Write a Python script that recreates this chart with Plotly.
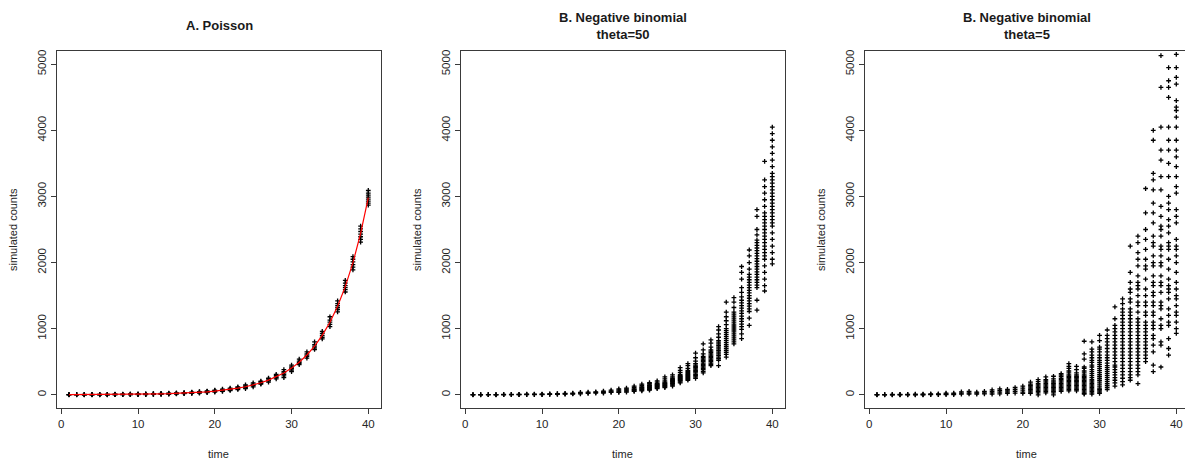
import plotly.graph_objects as go

# ---------------- data ----------------
times = list(range(1, 41))

# fitted Poisson mean (red line)
poisson_mean = [1.2, 1.5, 1.8, 2.2, 2.7, 3.3, 4.1, 5.0, 6.0, 7.4,
                9.0, 11, 13.5, 16.4, 20, 24.5, 30, 36.6, 44.7, 54.6,
                66.7, 81.5, 99.5, 121.5, 148.4, 181.3, 221.4, 270.4, 330.3, 403.4,
                492.7, 601.8, 735.1, 897.8, 1096.6, 1339.4, 1636, 1998.2, 2440.6, 2981]

# simulated Poisson counts, one list per time point
poisson_sims = [
    [0, 1, 2, 3], [0, 1, 2, 3], [0, 1, 2, 3, 4], [0, 1, 2, 3, 5], [0, 2, 3, 4, 6],
    [0, 2, 3, 4, 7], [1, 3, 4, 5, 8], [1, 3, 5, 7, 9], [2, 4, 6, 8, 10], [3, 6, 7, 9, 12],
    [4, 7, 9, 11, 14], [5, 9, 11, 13, 17], [7, 11, 13, 16, 20], [9, 13, 16, 19, 24], [12, 17, 20, 23, 28],
    [16, 21, 24, 28, 33], [20, 26, 30, 35, 40], [26, 32, 37, 42, 48], [33, 40, 45, 50, 57], [40, 50, 55, 62, 70],
    [50, 60, 67, 75, 85], [65, 75, 80, 90, 100], [80, 90, 100, 110, 120], [95, 110, 120, 135, 150], [120, 140, 150, 160, 180],
    [160, 170, 180, 195, 205], [190, 210, 220, 240, 250], [240, 260, 270, 290, 310], [260, 285, 310, 330, 350, 380], [350, 375, 400, 420, 450],
    [455, 475, 490, 510, 540], [555, 580, 600, 620, 650], [685, 710, 735, 760, 800], [845, 870, 900, 930, 960], [1030, 1065, 1100, 1130, 1180],
    [1255, 1290, 1320, 1350, 1380, 1420], [1555, 1590, 1620, 1650, 1690, 1730], [1890, 1930, 1970, 2010, 2050, 2090],
    [2310, 2350, 2390, 2430, 2470, 2510, 2550], [2870, 2900, 2930, 2960, 2990, 3020, 3050, 3090],
]

# simulated negative binomial counts, theta = 50
nb50_sims = [
    [0, 1, 2], [0, 1, 2], [1, 2, 3], [0, 2, 3], [1, 2, 4],
    [1, 3, 5], [2, 4, 6], [2, 5, 8], [3, 6, 9], [4, 7, 11],
    [6, 10, 14], [8, 12, 16], [10, 15, 20], [12, 18, 25], [15, 25, 35],
    [20, 30, 40], [25, 35, 45], [25, 35, 45, 55], [35, 45, 55, 70], [35, 45, 60, 75, 90],
    [40, 55, 70, 85, 100], [50, 60, 70, 80, 90, 110, 130], [60, 70, 80, 90, 100, 110, 120, 140, 160],
    [70, 80, 90, 100, 110, 120, 130, 140, 150, 170, 185],
    [95, 105, 115, 125, 135, 145, 150, 160, 170, 190, 210], [110, 120, 130, 140, 150, 160, 170, 180, 190, 210, 240, 270],
    [130, 145, 160, 170, 180, 190, 200, 210, 220, 230, 250, 270, 300],
    [180, 195, 210, 220, 230, 240, 250, 260, 270, 280, 290, 310, 340, 370, 410],
    [220, 235, 250, 265, 280, 295, 310, 325, 340, 355, 370, 400, 440, 470],
    [250, 270, 290, 310, 330, 350, 370, 390, 410, 430, 450, 470, 510, 560, 630],
    [330, 355, 380, 400, 420, 440, 460, 480, 500, 520, 540, 560, 580, 620, 680, 770],
    [440, 460, 480, 500, 520, 540, 560, 580, 600, 620, 640, 660, 680, 720, 780, 830],
    [440, 520, 545, 570, 595, 620, 645, 670, 695, 720, 745, 770, 795, 820, 870, 920, 980, 1030],
    [570, 610, 640, 670, 700, 730, 760, 790, 820, 850, 880, 910, 940, 970, 1000, 1060, 1120, 1180, 1250, 1400],
    [770, 800, 830, 860, 890, 920, 950, 980, 1010, 1040, 1070, 1100, 1130, 1160, 1190, 1220, 1250, 1320, 1400, 1470],
    [850, 920, 990, 1030, 1070, 1110, 1150, 1190, 1230, 1270, 1310, 1350, 1390, 1430, 1480, 1550, 1620, 1750, 1850, 1940],
    [1050, 1160, 1260, 1300, 1340, 1380, 1420, 1460, 1500, 1540, 1580, 1620, 1660, 1700, 1740, 1780, 1820,
     1900, 2000, 2100, 2190],
    [1280, 1430, 1620, 1660, 1700, 1740, 1780, 1820, 1860, 1900, 1940, 1980, 2020, 2060, 2100, 2140, 2180,
     2220, 2260, 2300, 2340, 2420, 2500, 2700, 2800],
    [1570, 1650, 1750, 1850, 1950, 2050, 2100, 2150, 2200, 2250, 2300, 2350, 2400, 2450, 2500, 2550, 2600,
     2650, 2700, 2750, 2850, 2950, 3050, 3150, 3250, 3530],
    [1980, 2050, 2150, 2250, 2350, 2450, 2550, 2600, 2650, 2700, 2750, 2800, 2850, 2900, 2950, 3000, 3050,
     3100, 3150, 3200, 3250, 3300, 3350, 3450, 3550, 3650, 3750, 3850, 3950, 4050],
]

# simulated negative binomial counts, theta = 5
nb5_sims = [
    [0, 1, 3], [0, 1, 3], [0, 1, 4], [0, 2, 6], [0, 2, 7],
    [0, 3, 8], [0, 4, 10], [1, 5, 12], [1, 6, 15], [3, 12, 25],
    [4, 12, 25], [10, 25, 45], [12, 30, 50], [10, 25, 40], [15, 30, 50],
    [10, 30, 50, 75], [15, 40, 65, 90], [20, 40, 60, 80], [25, 50, 80, 110], [20, 40, 70, 100, 130],
    [20, 40, 60, 80, 100, 120, 140, 160, 190], [0, 30, 50, 70, 90, 110, 130, 150, 170, 200, 230],
    [30, 50, 70, 90, 110, 130, 150, 170, 190, 210, 230, 270],
    [0, 30, 50, 70, 90, 110, 130, 150, 170, 190, 210, 240, 280],
    [50, 70, 90, 110, 130, 150, 170, 190, 210, 230, 250, 280, 300, 320],
    [60, 80, 100, 120, 140, 160, 180, 200, 220, 240, 260, 280, 300, 330, 360, 400, 430, 470],
    [60, 80, 100, 120, 140, 160, 180, 200, 220, 240, 260, 280, 300, 330, 380, 430],
    [10, 20, 40, 60, 80, 100, 120, 140, 160, 180, 200, 220, 240, 260, 280, 300, 330, 360, 400, 420, 540, 620, 810],
    [10, 30, 50, 70, 90, 110, 130, 150, 170, 190, 210, 230, 260, 290, 320, 350, 380, 420, 450, 490, 520, 560,
     600, 650, 690, 800],
    [20, 40, 60, 80, 100, 130, 160, 190, 220, 250, 280, 310, 340, 370, 400, 430, 460, 490, 520, 560, 600,
     650, 690, 720, 820, 900],
    [80, 110, 140, 170, 200, 230, 260, 290, 320, 350, 380, 410, 440, 480, 520, 560, 600, 650, 700, 750,
     800, 850, 900, 980],
    [130, 180, 220, 260, 300, 340, 380, 420, 450, 500, 550, 600, 650, 700, 750, 800, 850, 900, 950, 1000,
     1050, 1150, 1330],
    [150, 200, 250, 300, 350, 400, 450, 500, 550, 600, 650, 700, 750, 800, 850, 900, 950, 1000, 1050, 1100,
     1150, 1200, 1250, 1300, 1380, 1450],
    [220, 260, 300, 350, 400, 450, 500, 550, 600, 650, 700, 750, 800, 850, 900, 950, 1000, 1050, 1100, 1150,
     1200, 1250, 1300, 1400, 1450, 1550, 1600, 1700, 1850, 2250],
    [170, 300, 350, 400, 450, 500, 550, 600, 650, 700, 750, 800, 850, 900, 950, 1000, 1050, 1100, 1150, 1250,
     1350, 1400, 1500, 1600, 1650, 1700, 1800, 1950, 2050, 2150, 2300, 2400],
    [500, 550, 600, 650, 700, 750, 800, 850, 900, 950, 1000, 1050, 1100, 1200, 1250, 1350, 1400, 1500,
     1600, 1750, 1900, 1950, 2050, 2200, 2350, 2500, 2750, 3120],
    [350, 450, 650, 750, 850, 900, 1000, 1050, 1100, 1200, 1250, 1350, 1400, 1500, 1550, 1650, 1700, 1800,
     1950, 2000, 2100, 2250, 2300, 2400, 2600, 2750, 2900, 3100, 3250, 3350, 3850, 4000],
    [420, 750, 800, 1000, 1050, 1150, 1300, 1350, 1400, 1550, 1650, 1700, 1800, 1950, 2000, 2100, 2200, 2250,
     2400, 2500, 2550, 2700, 2850, 3100, 3300, 3550, 3700, 4050, 4650, 5130],
    [600, 700, 850, 1050, 1100, 1200, 1300, 1450, 1550, 1600, 1650, 1750, 1900, 2050, 2200, 2250, 2300, 2450,
     2550, 2650, 2800, 2900, 3000, 3300, 3500, 3700, 3850, 4050, 4500, 4650, 4750, 4950],
    [930, 1000, 1100, 1200, 1250, 1350, 1450, 1500, 1600, 1700, 1850, 2000, 2100, 2200, 2250, 2350, 2600, 2700,
     2800, 3050, 3150, 3300, 3450, 3600, 3700, 3850, 4050, 4200, 4300, 4350, 4450, 4700, 4800, 4950, 5150],
]

x_ticks = [0, 10, 20, 30, 40]
y_ticks = [0, 1000, 2000, 3000, 4000, 5000]

titles = ["<b>A. Poisson</b>",
          "<b>B. Negative binomial</b><br><b>theta=50</b>",
          "<b>B. Negative binomial</b><br><b>theta=5</b>"]
x_label = "time"
y_label = "simulated counts"


def flatten(sims):
    xs, ys = [], []
    for t, vals in zip(times, sims):
        for v in vals:
            xs.append(t)
            ys.append(v)
    return xs, ys


W, H = 1185, 459
FONT = "Liberation Sans, Arial, sans-serif"
TXT = "#262626"

fig = go.Figure()

marker = dict(symbol="cross-thin", size=3.4, color="black",
              line=dict(color="black", width=1.3))

for i, sims in enumerate([poisson_sims, nb50_sims, nb5_sims]):
    xs, ys = flatten(sims)
    sfx = "" if i == 0 else str(i + 1)
    fig.add_trace(go.Scatter(x=xs, y=ys, mode="markers", marker=marker,
                             xaxis="x" + sfx, yaxis="y" + sfx,
                             showlegend=False, hoverinfo="skip"))

fig.add_trace(go.Scatter(x=times, y=poisson_mean, mode="lines",
                         line=dict(color="red", width=1.2),
                         xaxis="x", yaxis="y", showlegend=False))

# panel geometry in pixels (left, right of box)
boxes = [(57, 381), (461, 785), (865, 1189)]
box_top, box_bot = 51, 408
px_per_unit = 307.0 / 40.0
x0 = -0.56

ax_common = dict(showgrid=False, zeroline=False, showline=True,
                 linecolor="#3a3a3a", linewidth=1, ticks="outside",
                 ticklen=5, tickcolor="#3a3a3a",
                 tickfont=dict(family=FONT, size=11.5, color=TXT))

layout = dict(width=W, height=H, margin=dict(l=0, r=0, t=0, b=0),
              paper_bgcolor="white", plot_bgcolor="white",
              font=dict(family=FONT, color=TXT))

annotations = []
for i, (l, r) in enumerate(boxes):
    sfx = "" if i == 0 else str(i + 1)
    r_vis = min(r, W)
    x_hi = x0 + (r_vis - l) / px_per_unit
    xa = dict(ax_common, domain=[l / W, r_vis / W], range=[x0, x_hi],
              tickvals=x_ticks, mirror=True,
              anchor="y" + sfx)
    ya = dict(ax_common, domain=[1 - box_bot / H, 1 - box_top / H],
              range=[-200, 5200], tickvals=y_ticks, tickangle=-90,
              mirror=(r <= W), anchor="x" + sfx)
    layout["xaxis" + sfx] = xa
    layout["yaxis" + sfx] = ya
    cx = (l + r) / 2.0
    annotations.append(dict(text=titles[i], x=cx / W, y=1 - 26 / H,
                            xref="paper", yref="paper", showarrow=False,
                            xanchor="center", yanchor="middle",
                            font=dict(family=FONT, size=13, color="#1a1a1a")))
    annotations.append(dict(text=x_label, x=(l + 307 / 2 + 8) / W, y=1 - 454 / H,
                            xref="paper", yref="paper", showarrow=False,
                            xanchor="center", yanchor="middle",
                            font=dict(family=FONT, size=11, color=TXT)))
    annotations.append(dict(text=y_label, x=(l - 44) / W, y=1 - 230 / H,
                            xref="paper", yref="paper", showarrow=False,
                            textangle=-90, xanchor="center", yanchor="middle",
                            font=dict(family=FONT, size=11, color=TXT)))

layout["annotations"] = annotations
fig.update_layout(**layout)

fig.write_html("out.html")
